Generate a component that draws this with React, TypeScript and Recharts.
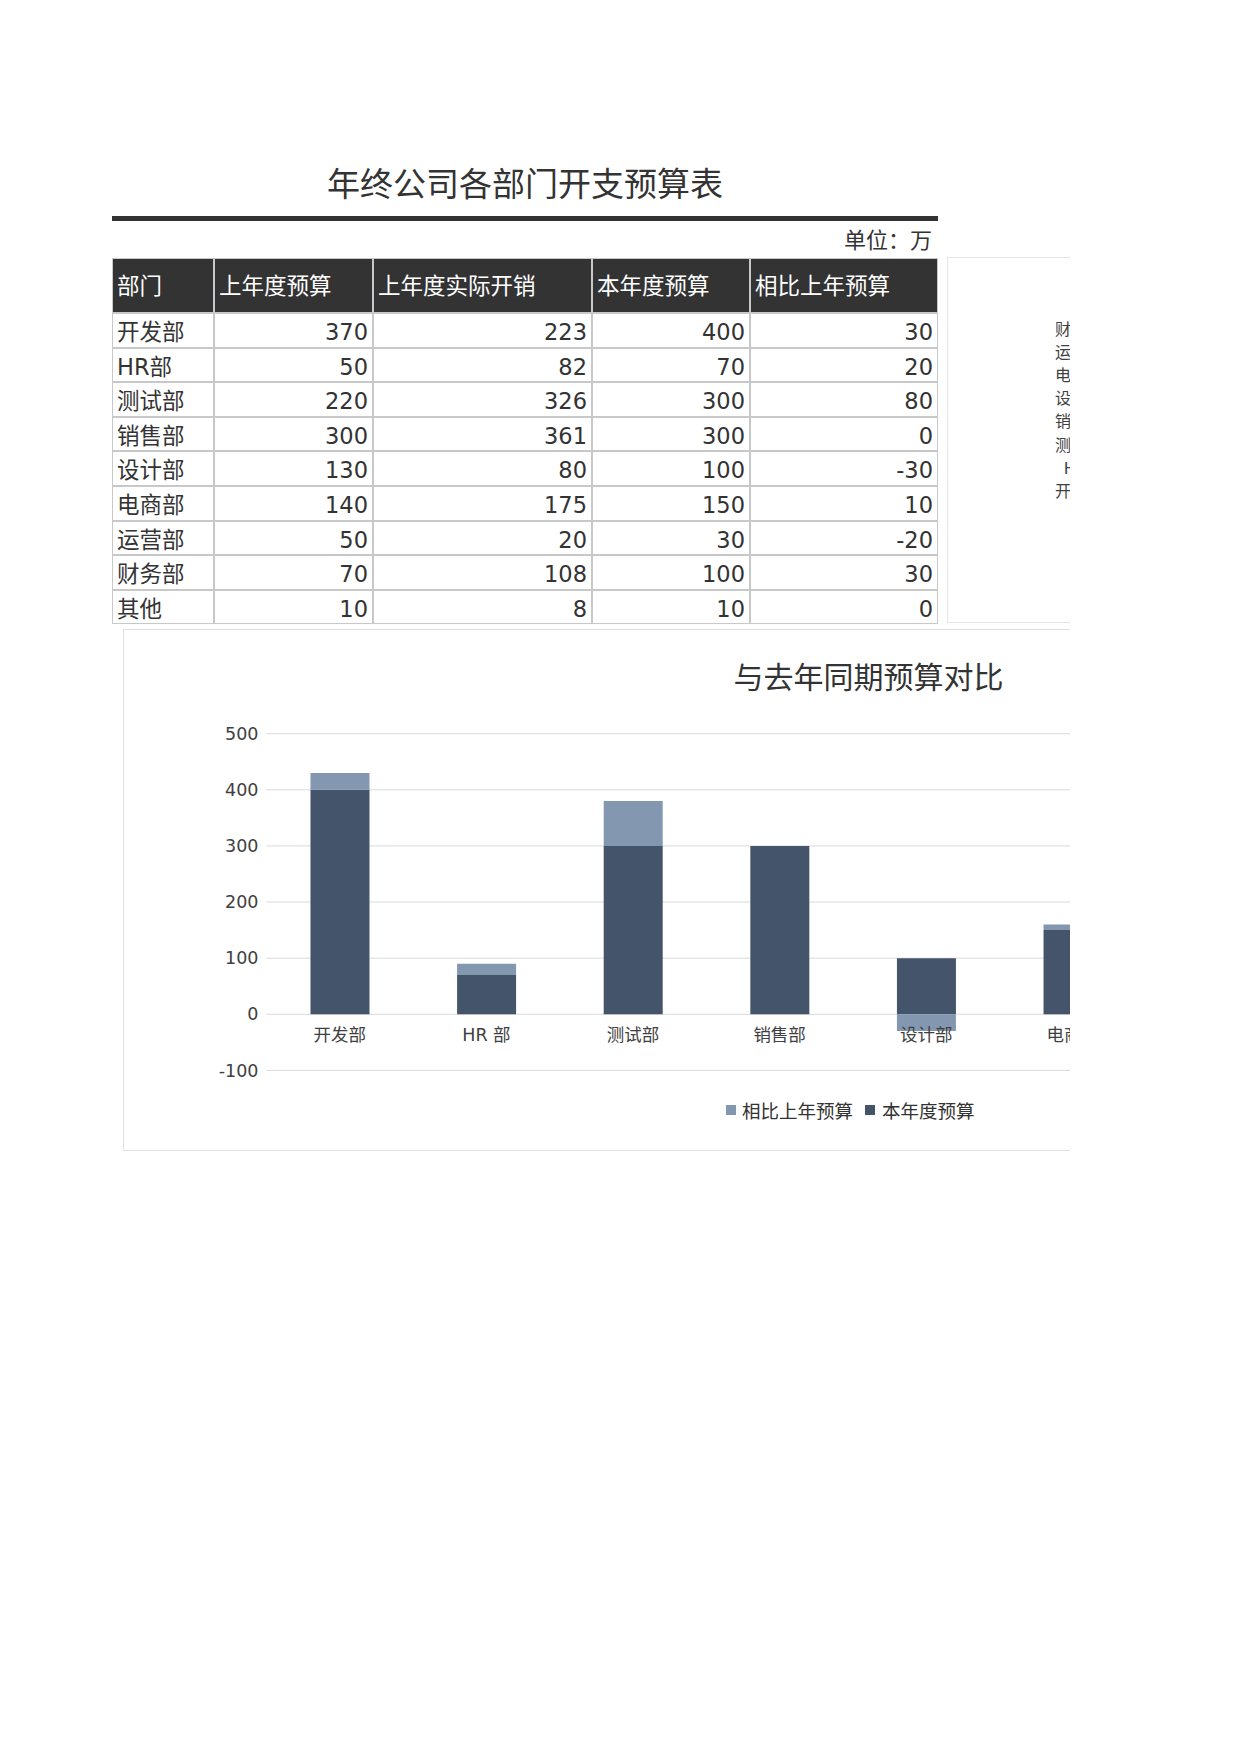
import React from "react";
import {
  BarChart,
  Bar,
  XAxis,
  YAxis,
  CartesianGrid,
} from "recharts";

// table / chart data
const departments = ["开发部", "HR部", "测试部", "销售部", "设计部", "电商部", "运营部", "财务部", "其他"];
const chartLabels = ["开发部", "HR 部", "测试部", "销售部", "设计部", "电商部", "运营部", "财务部", "其他"];
const lastBudget = [370, 50, 220, 300, 130, 140, 50, 70, 10];
const lastActual = [223, 82, 326, 361, 80, 175, 20, 108, 8];
const thisBudget = [400, 70, 300, 300, 100, 150, 30, 100, 10];
const diffBudget = [30, 20, 80, 0, -30, 10, -20, 30, 0];
const yTicks = [-100, 0, 100, 200, 300, 400, 500];
const headers = ["部门", "上年度预算", "上年度实际开销", "本年度预算", "相比上年预算"];

const FONT = '"DejaVu Sans", "Noto Sans CJK SC", sans-serif';
const DARK = "#44546a";
const LIGHT = "#8497b0";

const colEdges = [112, 214, 373, 592, 750, 938];

const chartData = chartLabels.map((name, i) => ({
  name,
  thisBudget: thisBudget[i],
  diff: diffBudget[i],
}));

// side chart (only category labels visible, reversed order, no 其他)
const sideData = departments
  .slice(0, 8)
  .reverse()
  .map((name) => ({ name }));

function CategoryTick(props: any) {
  const { x, y, payload } = props;
  return (
    <text
      x={x}
      y={y - 37}
      textAnchor="middle"
      fontSize={17.5}
      fill="#404040"
      fontFamily={FONT}
    >
      {payload.value}
    </text>
  );
}

export default function App() {
  const rows = departments.map((d, i) => [d, lastBudget[i], lastActual[i], thisBudget[i], diffBudget[i]]);
  const headerH = 55;
  const rowH = 34.6;
  const tableTop = 258;

  return (
    <div
      style={{
        position: "absolute",
        left: 0,
        top: 0,
        width: 1070,
        height: 1754,
        overflow: "hidden",
        background: "#fff",
        fontFamily: FONT,
        color: "#333",
      }}
    >
      {/* main title */}
      <div
        style={{
          position: "absolute",
          left: 112,
          width: 826,
          top: 165,
          textAlign: "center",
          fontSize: 33,
          lineHeight: "40px",
          color: "#333",
        }}
      >
        年终公司各部门开支预算表
      </div>
      <div style={{ position: "absolute", left: 112, top: 216, width: 826, height: 5, background: "#333" }} />
      <div
        style={{
          position: "absolute",
          right: 1070 - 932,
          top: 227,
          fontSize: 22,
          lineHeight: "28px",
          color: "#333",
        }}
      >
        单位：万
      </div>

      {/* table */}
      {headers.map((h, c) => (
        <div
          key={"h" + c}
          style={{
            position: "absolute",
            left: colEdges[c],
            top: tableTop,
            width: colEdges[c + 1] - colEdges[c],
            height: headerH,
            boxSizing: "border-box",
            border: "1px solid #c8c8c8",
            background: "#333333",
            color: "#fff",
            fontSize: 22.5,
            lineHeight: headerH + "px",
            paddingLeft: 4,
            whiteSpace: "nowrap",
          }}
        >
          {h}
        </div>
      ))}
      {rows.map((r, ri) =>
        r.map((v, c) => (
          <div
            key={ri + "-" + c}
            style={{
              position: "absolute",
              left: colEdges[c],
              top: tableTop + headerH + ri * rowH,
              width: colEdges[c + 1] - colEdges[c],
              height: rowH,
              boxSizing: "border-box",
              border: "1px solid #c8c8c8",
              fontSize: 22.5,
              lineHeight: rowH + 2 + "px",
              textAlign: c === 0 ? "left" : "right",
              paddingLeft: 4,
              paddingRight: 4,
              color: "#333",
              whiteSpace: "nowrap",
            }}
          >
            {v}
          </div>
        ))
      )}

      {/* side panel (cut off) */}
      <div
        style={{
          position: "absolute",
          left: 947,
          top: 257,
          width: 400,
          height: 366,
          boxSizing: "border-box",
          border: "1px solid #e6e6e6",
        }}
      >
        <BarChart
          width={398}
          height={364}
          data={sideData}
          layout="vertical"
          margin={{ top: 59.4, right: 0, bottom: 119, left: 0 }}
        >
          <XAxis type="number" hide domain={[0, 500]} />
          <YAxis
            type="category"
            dataKey="name"
            width={163}
            axisLine={false}
            tickLine={false}
            interval={0}
            tick={{ fontSize: 16, fill: "#404040", fontFamily: FONT }}
          />
        </BarChart>
      </div>

      {/* bar chart box */}
      <div
        style={{
          position: "absolute",
          left: 123,
          top: 629,
          width: 1489,
          height: 522,
          boxSizing: "border-box",
          border: "1px solid #e0e0e0",
        }}
      >
        <div
          style={{
            position: "absolute",
            left: 0,
            width: 1489,
            top: 28,
            textAlign: "center",
            fontSize: 30,
            lineHeight: "40px",
            color: "#333",
          }}
        >
          与去年同期预算对比
        </div>
        <div style={{ position: "absolute", left: 0, top: 0 }}>
          <BarChart
            width={1487}
            height={520}
            data={chartData}
            stackOffset="sign"
            barCategoryGap="30%"
            margin={{ top: 103.7, right: 25, left: 0, bottom: 49.6 }}
          >
            <CartesianGrid vertical={false} stroke="#d9d9d9" />
            <XAxis
              dataKey="name"
              axisLine={false}
              tickLine={false}
              interval={0}
              height={30}
              tick={<CategoryTick />}
            />
            <YAxis
              domain={[-100, 500]}
              ticks={yTicks}
              width={142.5}
              axisLine={false}
              tickLine={false}
              interval={0}
              tick={{ fontSize: 17.5, fill: "#404040", fontFamily: FONT }}
            />
            <Bar dataKey="thisBudget" stackId="a" fill={DARK} isAnimationActive={false} />
            <Bar dataKey="diff" stackId="a" fill={LIGHT} isAnimationActive={false} />
          </BarChart>
        </div>
        {/* legend */}
        <div
          style={{
            position: "absolute",
            left: 602,
            top: 467,
            display: "flex",
            alignItems: "center",
            fontSize: 18.5,
            color: "#333",
            whiteSpace: "nowrap",
          }}
        >
          <span style={{ width: 10, height: 10, background: LIGHT, display: "inline-block", marginRight: 6 }} />
          <span style={{ marginRight: 12 }}>相比上年预算</span>
          <span style={{ width: 10, height: 10, background: DARK, display: "inline-block", marginRight: 7 }} />
          <span>本年度预算</span>
        </div>
      </div>
    </div>
  );
}
